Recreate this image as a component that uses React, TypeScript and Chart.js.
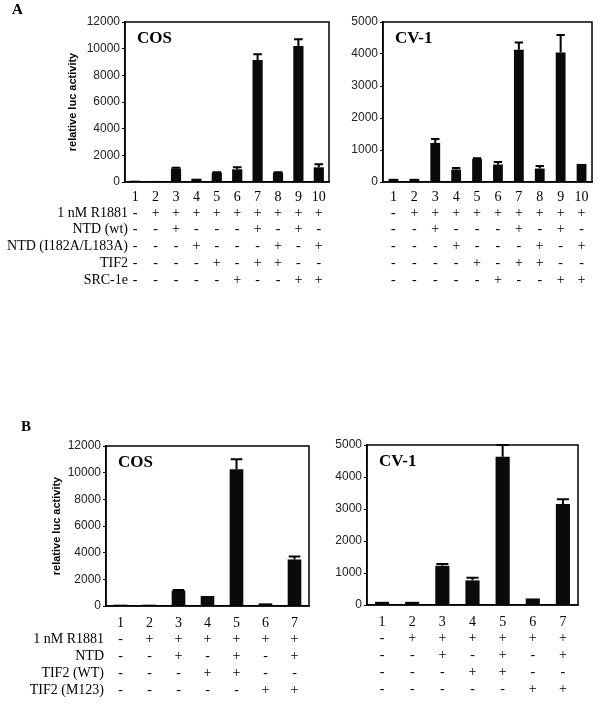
import React, { useEffect, useRef } from "react";
import { Chart, registerables } from "chart.js";

Chart.register(...registerables);

// ---------- data ----------
const lanesA = ["1", "2", "3", "4", "5", "6", "7", "8", "9", "10"];
const lanesB = ["1", "2", "3", "4", "5", "6", "7"];

const cosA = [100, 80, 1000, 250, 700, 950, 9150, 700, 10200, 1100];
const cosAErr = [null, null, 1060, null, 740, 1100, 9580, 740, 10700, 1330];
const cv1A = [100, 100, 1220, 390, 720, 545, 4130, 420, 4045, 565];
const cv1AErr = [null, null, 1340, 440, 740, 627, 4360, 500, 4590, null];

const cosB = [100, 100, 1150, 750, 10250, 200, 3490];
const cosBErr = [null, null, 1200, null, 11000, null, 3710];
const cv1B = [100, 100, 1225, 770, 4635, 205, 3160];
const cv1BErr = [null, null, 1280, 850, 5000, null, 3305];

const cosMax = 12000;
const cosStep = 2000;
const cv1Max = 5000;
const cv1Step = 1000;

const yTitle = "relative luc activity";

const rowsA = ["1 nM R1881", "NTD (wt)", "NTD (I182A/L183A)", "TIF2", "SRC-1e"];
const signsA = [
  ["-", "+", "+", "+", "+", "+", "+", "+", "+", "+"],
  ["-", "-", "+", "-", "-", "-", "+", "-", "+", "-"],
  ["-", "-", "-", "+", "-", "-", "-", "+", "-", "+"],
  ["-", "-", "-", "-", "+", "-", "+", "+", "-", "-"],
  ["-", "-", "-", "-", "-", "+", "-", "-", "+", "+"],
];

const rowsB = ["1 nM R1881", "NTD", "TIF2 (WT)", "TIF2 (M123)"];
const signsB = [
  ["-", "+", "+", "+", "+", "+", "+"],
  ["-", "-", "+", "-", "+", "-", "+"],
  ["-", "-", "-", "+", "+", "-", "-"],
  ["-", "-", "-", "-", "-", "+", "+"],
];

// ---------- styling ----------
const SERIF = '"Liberation Serif", "Times New Roman", serif';
const SANS = '"Liberation Sans", Arial, sans-serif';

type Spec = {
  left: number; top: number; width: number; height: number;
  area: { left: number; right: number; top: number; bottom: number };
  padLeft: number;
  labels: string[]; values: number[]; errs: (number | null)[];
  yMax: number; yStep: number; showTitle: boolean;
  cell: string;
  rowNames: string[] | null; signs: string[][];
  rowLabelRight: number; rowsOffset: number; rowStep: number; numPad: number;
  barPct: number;
  letter: { text: string; x: number; y: number } | null;
};

const specs: Spec[] = [
  {
    left: 0, top: 0, width: 335, height: 300,
    area: { left: 125, right: 329, top: 22, bottom: 182 }, padLeft: 62,
    labels: lanesA, values: cosA, errs: cosAErr, yMax: cosMax, yStep: cosStep, showTitle: true,
    cell: "COS", rowNames: rowsA, signs: signsA, rowLabelRight: 128, rowsOffset: 31, rowStep: 16.8, numPad: 6.5,
    barPct: 0.5, letter: { text: "A", x: 12, y: 14 },
  },
  {
    left: 320, top: 0, width: 290, height: 300,
    area: { left: 63, right: 272, top: 22, bottom: 182 }, padLeft: 0,
    labels: lanesA, values: cv1A, errs: cv1AErr, yMax: cv1Max, yStep: cv1Step, showTitle: false,
    cell: "CV-1", rowNames: null, signs: signsA, rowLabelRight: 0, rowsOffset: 31, rowStep: 16.8, numPad: 6.5,
    barPct: 0.47, letter: null,
  },
  {
    left: 0, top: 400, width: 335, height: 312,
    area: { left: 106, right: 309, top: 46, bottom: 206 }, padLeft: 46,
    labels: lanesB, values: cosB, errs: cosBErr, yMax: cosMax, yStep: cosStep, showTitle: true,
    cell: "COS", rowNames: rowsB, signs: signsB, rowLabelRight: 104, rowsOffset: 33.6, rowStep: 16.9, numPad: 8.5,
    barPct: 0.47, letter: { text: "B", x: 21, y: 31 },
  },
  {
    left: 320, top: 400, width: 290, height: 312,
    area: { left: 47, right: 258, top: 45, bottom: 205 }, padLeft: 0,
    labels: lanesB, values: cv1B, errs: cv1BErr, yMax: cv1Max, yStep: cv1Step, showTitle: false,
    cell: "CV-1", rowNames: null, signs: signsB, rowLabelRight: 0, rowsOffset: 33.6, rowStep: 16.9, numPad: 8.5,
    barPct: 0.47, letter: null,
  },
];

function makeDecor(s: Spec) {
  return {
    id: "decor",
    afterDraw(chart: any) {
      const ctx = chart.ctx as CanvasRenderingContext2D;
      const ca = chart.chartArea;
      const xs = chart.scales.x;
      const ys = chart.scales.y;
      ctx.save();
      // error bars
      const meta = chart.getDatasetMeta(0);
      ctx.strokeStyle = "#000";
      ctx.lineWidth = 2;
      s.errs.forEach((e, i) => {
        if (e == null) return;
        const bar = meta.data[i];
        const x = bar.x;
        const y0 = ys.getPixelForValue(s.values[i]);
        const y1 = ys.getPixelForValue(e);
        const hw = (bar.width * 0.85) / 2;
        ctx.beginPath();
        ctx.moveTo(x, y0);
        ctx.lineTo(x, y1);
        ctx.moveTo(x - hw, y1);
        ctx.lineTo(x + hw, y1);
        ctx.stroke();
      });
      // frame
      ctx.lineWidth = 1.5;
      ctx.strokeRect(ca.left, ca.top, ca.right - ca.left, ca.bottom - ca.top);
      // cell label
      ctx.fillStyle = "#000";
      ctx.font = `bold 17px ${SERIF}`;
      ctx.textAlign = "left";
      ctx.textBaseline = "alphabetic";
      ctx.fillText(s.cell, ca.left + 12, ca.top + 21);
      // panel letter
      if (s.letter) {
        ctx.font = `bold 15px ${SERIF}`;
        ctx.fillText(s.letter.text, s.letter.x, s.letter.y);
      }
      // table
      ctx.font = `14px ${SERIF}`;
      ctx.textBaseline = "middle";
      s.signs.forEach((row, r) => {
        const y = ca.bottom + s.rowsOffset + r * s.rowStep;
        if (s.rowNames) {
          ctx.textAlign = "right";
          ctx.fillText(s.rowNames[r], s.rowLabelRight, y);
        }
        ctx.textAlign = "center";
        row.forEach((sign, i) => {
          ctx.fillText(sign, xs.getPixelForTick(i), y);
        });
      });
      ctx.restore();
    },
  };
}

function Panel({ s }: { s: Spec }) {
  const ref = useRef<HTMLCanvasElement | null>(null);
  useEffect(() => {
    if (!ref.current) return;
    const chart = new Chart(ref.current, {
      type: "bar",
      data: {
        labels: s.labels,
        datasets: [
          {
            data: s.values,
            backgroundColor: "#0a0a0a",
            borderWidth: 0,
            barPercentage: s.barPct,
            categoryPercentage: 1,
          },
        ],
      },
      options: {
        animation: false,
        responsive: false,
        devicePixelRatio: 1,
        layout: {
          padding: { left: s.padLeft, top: s.area.top, right: s.width - s.area.right, bottom: 0 },
        },
        plugins: { legend: { display: false }, tooltip: { enabled: false } },
        scales: {
          x: {
            grid: { display: false, drawTicks: false },
            border: { display: true, color: "#000", width: 1.5 },
            ticks: {
              font: { family: SERIF, size: 14 },
              color: "#000",
              padding: s.numPad,
              maxRotation: 0,
              autoSkip: false,
            },
            afterFit: (sc: any) => {
              sc.height = s.height - s.area.bottom;
            },
          },
          y: {
            min: 0,
            max: s.yMax,
            ticks: {
              stepSize: s.yStep,
              font: { family: SANS, size: 12 },
              color: "#222",
              padding: 2,
              callback: (v: any) => String(v),
            },
            grid: { drawOnChartArea: false, drawTicks: true, tickLength: 3, color: "#000" },
            border: { display: true, color: "#000", width: 1.5 },
            title: {
              display: s.showTitle,
              text: yTitle,
              font: { family: SANS, size: 11, weight: "bold" },
              color: "#000",
              padding: { top: 4, bottom: 4 },
            },
            afterFit: (sc: any) => {
              sc.width = s.area.left - s.padLeft;
            },
          },
        },
      },
      plugins: [makeDecor(s)],
    } as any);
    return () => chart.destroy();
  }, [s]);
  return (
    <canvas
      ref={ref}
      width={s.width}
      height={s.height}
      style={{ position: "absolute", left: s.left, top: s.top, width: s.width, height: s.height }}
    />
  );
}

export default function App() {
  return (
    <div style={{ position: "absolute", left: 0, top: 0, width: 610, height: 712, background: "#fff", overflow: "hidden" }}>
      {specs.map((s, i) => (
        <Panel key={i} s={s} />
      ))}
    </div>
  );
}
